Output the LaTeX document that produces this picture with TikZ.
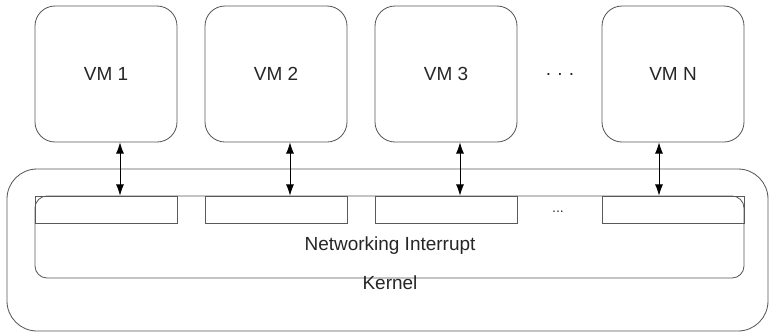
\documentclass[tikz,border=0pt]{standalone}
\usepackage{fontspec}
\setmainfont{Liberation Sans}
\usetikzlibrary{arrows.meta}

\begin{document}
\begin{tikzpicture}[
		line/.style={line width=0.6pt, color=black!65},
		vm/.style={line, draw, rounded corners=0.5cm, minimum width=3.55cm, minimum height=3.4cm, inner sep=0pt, font=\fontsize{13.5}{15}\selectfont, text=black!85},
		slot/.style={line, draw, minimum width=3.55cm, minimum height=0.675cm, inner sep=0pt},
		label/.style={font=\fontsize{13.5}{15}\selectfont, text=black!85},
		link/.style={line width=0.6pt, color=black, {Latex[length=2.8mm,width=2mm]}-{Latex[length=2.8mm,width=2mm]}}
	]
		%%%%% START %%%%%
		
		\useasboundingbox (0, 0) rectangle (19.225, 8.3);
		
		\draw[line, rounded corners=0.75cm] (0.175, 0.025) rectangle (19.2, 4.075);
		\draw[line, rounded corners=0.3cm] (0.875, 1.35) rectangle (18.6, 3.4);
		
		\node[vm] (vm1) at (2.65, 6.45) {VM 1};
		\node[vm] (vm2) at (6.9, 6.45) {VM 2};
		\node[vm] (vm3) at (11.15, 6.45) {VM 3};
		\node[vm] (vmn) at (16.825, 6.45) {VM N};
		\node[label] (vmdots) at (14.0, 6.45) {.\,\,.\,\,.};
		
		\node[slot] (s1) at (2.65, 3.0625) {};
		\node[slot] (s2) at (6.9, 3.0625) {};
		\node[slot] (s3) at (11.15, 3.0625) {};
		\node[slot] (sn) at (16.825, 3.0625) {};
		\node[font=\fontsize{10}{11}\selectfont, text=black!80] (sdots) at (13.95, 3.0) {...};
		
		\draw[link] ([xshift=0.35cm]vm1.south) -- ([xshift=0.35cm]s1.north);
		\draw[link] ([xshift=0.35cm]vm2.south) -- ([xshift=0.35cm]s2.north);
		\draw[link] ([xshift=0.35cm]vm3.south) -- ([xshift=0.35cm]s3.north);
		\draw[link] ([xshift=-0.35cm]vmn.south) -- ([xshift=-0.35cm]sn.north);
		
		\node[label] (irq) at (9.75, 2.15) {Networking Interrupt};
		\node[label] (kernel) at (9.75, 1.22) {Kernel};
		
		%%%%% END %%%%%
	\end{tikzpicture}
\end{document}
